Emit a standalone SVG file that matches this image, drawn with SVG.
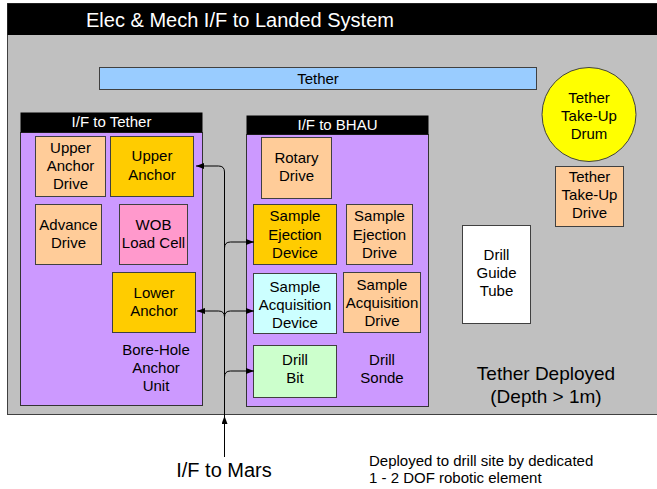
<svg xmlns="http://www.w3.org/2000/svg" width="657" height="489" viewBox="0 0 657 489">
<style>
text{font-family:"Liberation Sans",Arial,sans-serif;font-size:15px;fill:#000;text-anchor:middle}
.w{fill:#fff}
.box{stroke:#404040;stroke-width:1}
.peach{fill:#FFCC99}
.gold{fill:#FFCC00}
.pink{fill:#FF99CC}
.cyan{fill:#CCFFFF}
.green{fill:#CCFFCC}
.purple{fill:#CC99FF;stroke:#333;stroke-width:1}
.hdr{fill:#000}
.conn{fill:none;stroke:#000;stroke-width:1}
</style>
<defs>
<marker id="ah" markerWidth="8" markerHeight="6" refX="8" refY="3" orient="auto" markerUnits="userSpaceOnUse">
<path d="M0,0 L8,3 L0,6 z" fill="#000"/>
</marker>
</defs>

<g id="landed-system">
<rect x="7.5" y="3.5" width="660" height="411" fill="#C0C0C0" stroke="#404040"/>
<rect x="7.5" y="3.5" width="660" height="31.5" fill="#000"/>
<text x="240" y="27" class="w" style="font-size:20px">Elec &amp; Mech I/F to Landed System</text>
</g>

<g id="tether">
<rect x="99.5" y="67.5" width="437" height="22" fill="#99CCFF" class="box"/>
<text x="318" y="84">Tether</text>
</g>

<g id="tether-drum">
<circle cx="589" cy="114.5" r="47" fill="#FFFF00" stroke="#404040"/>
<text x="589" y="103">Tether</text>
<text x="589" y="121">Take-Up</text>
<text x="589" y="139">Drum</text>
</g>

<g id="tether-drive">
<rect x="555.5" y="166.5" width="68" height="60" class="box peach"/>
<text x="589.5" y="182">Tether</text>
<text x="589.5" y="200">Take-Up</text>
<text x="589.5" y="218">Drive</text>
</g>

<g id="drill-guide-tube">
<rect x="462.5" y="225.5" width="68" height="98" fill="#fff" class="box"/>
<text x="496.5" y="259.5">Drill</text>
<text x="496.5" y="277.5">Guide</text>
<text x="496.5" y="295.5">Tube</text>
</g>

<g id="tether-deployed">
<text x="546" y="380" style="font-size:19px">Tether Deployed</text>
<text x="546" y="403" style="font-size:19px">(Depth &gt; 1m)</text>
</g>

<g id="bhau-anchor-unit">
<rect x="20.5" y="132.5" width="182" height="273" class="purple"/>
<rect x="20.5" y="112.5" width="182" height="20" class="hdr"/>
<text x="111.5" y="127" class="w">I/F to Tether</text>
<text x="156" y="355">Bore-Hole</text>
<text x="156" y="373">Anchor</text>
<text x="156" y="391">Unit</text>
</g>

<g id="upper-anchor-drive">
<rect x="35.5" y="136.5" width="70" height="60" class="box peach"/>
<text x="70.5" y="153">Upper</text>
<text x="70.5" y="171">Anchor</text>
<text x="70.5" y="189">Drive</text>
</g>

<g id="upper-anchor">
<rect x="110.5" y="136.5" width="83" height="60" class="box gold"/>
<text x="152" y="161">Upper</text>
<text x="152" y="180">Anchor</text>
</g>

<g id="advance-drive">
<rect x="35.5" y="204.5" width="66" height="60" class="box peach"/>
<text x="68.5" y="230">Advance</text>
<text x="68.5" y="248">Drive</text>
</g>

<g id="wob-load-cell">
<rect x="119.5" y="204.5" width="68" height="60" class="box pink"/>
<text x="153.5" y="230">WOB</text>
<text x="153.5" y="248">Load Cell</text>
</g>

<g id="lower-anchor">
<rect x="112.5" y="272.5" width="83" height="60" class="box gold"/>
<text x="154" y="298">Lower</text>
<text x="154" y="316">Anchor</text>
</g>

<g id="drill-sonde">
<rect x="246.5" y="134.5" width="182" height="272" class="purple"/>
<rect x="246.5" y="115.5" width="182" height="19" class="hdr"/>
<text x="337.5" y="130" class="w">I/F to BHAU</text>
<text x="382" y="365">Drill</text>
<text x="382" y="383">Sonde</text>
</g>

<g id="rotary-drive">
<rect x="261.5" y="137.5" width="70" height="61" class="box peach"/>
<text x="296.5" y="163">Rotary</text>
<text x="296.5" y="181">Drive</text>
</g>

<g id="sample-ejection-device">
<rect x="253.5" y="204.5" width="83" height="60" class="box gold"/>
<text x="295" y="221">Sample</text>
<text x="295" y="240">Ejection</text>
<text x="295" y="258">Device</text>
</g>

<g id="sample-ejection-drive">
<rect x="346.5" y="204.5" width="66" height="60" class="box peach"/>
<text x="379.5" y="221">Sample</text>
<text x="379.5" y="240">Ejection</text>
<text x="379.5" y="258">Drive</text>
</g>

<g id="sample-acquisition-device">
<rect x="253.5" y="273.5" width="83" height="60" class="box cyan"/>
<text x="295" y="292">Sample</text>
<text x="295" y="310">Acquisition</text>
<text x="295" y="328">Device</text>
</g>

<g id="sample-acquisition-drive">
<rect x="343.5" y="272.5" width="77" height="60" class="box peach"/>
<text x="382" y="290">Sample</text>
<text x="382" y="308">Acquisition</text>
<text x="382" y="326">Drive</text>
</g>

<g id="drill-bit">
<rect x="253.5" y="345.5" width="83" height="52" class="box green"/>
<text x="295" y="365">Drill</text>
<text x="295" y="383">Bit</text>
</g>

<g id="connectors">
<path class="conn" d="M224.5,416 V172 Q224.5,166 218.5,166 H196" marker-end="url(#ah)"/>
<path class="conn" d="M224.5,416 V317 Q224.5,311 218.5,311 H197" marker-end="url(#ah)"/>
<path class="conn" d="M224.5,416 V317 Q224.5,311 230.5,311 H254" marker-end="url(#ah)"/>
<path class="conn" d="M224.5,416 V248 Q224.5,242 230.5,242 H254" marker-end="url(#ah)"/>
<path class="conn" d="M224.5,416 V377 Q224.5,371 230.5,371 H254" marker-end="url(#ah)"/>
<path class="conn" d="M224.5,457 V416" stroke-width="2" marker-end="url(#ah)"/>
</g>

<g id="if-to-mars">
<text x="224" y="477" style="font-size:20px">I/F to Mars</text>
</g>

<g id="deployment-note">
<text x="369" y="466" style="text-anchor:start;font-size:15px">Deployed to drill site by dedicated</text>
<text x="369" y="483" style="text-anchor:start;font-size:15px">1 - 2 DOF robotic element</text>
</g>
</svg>
